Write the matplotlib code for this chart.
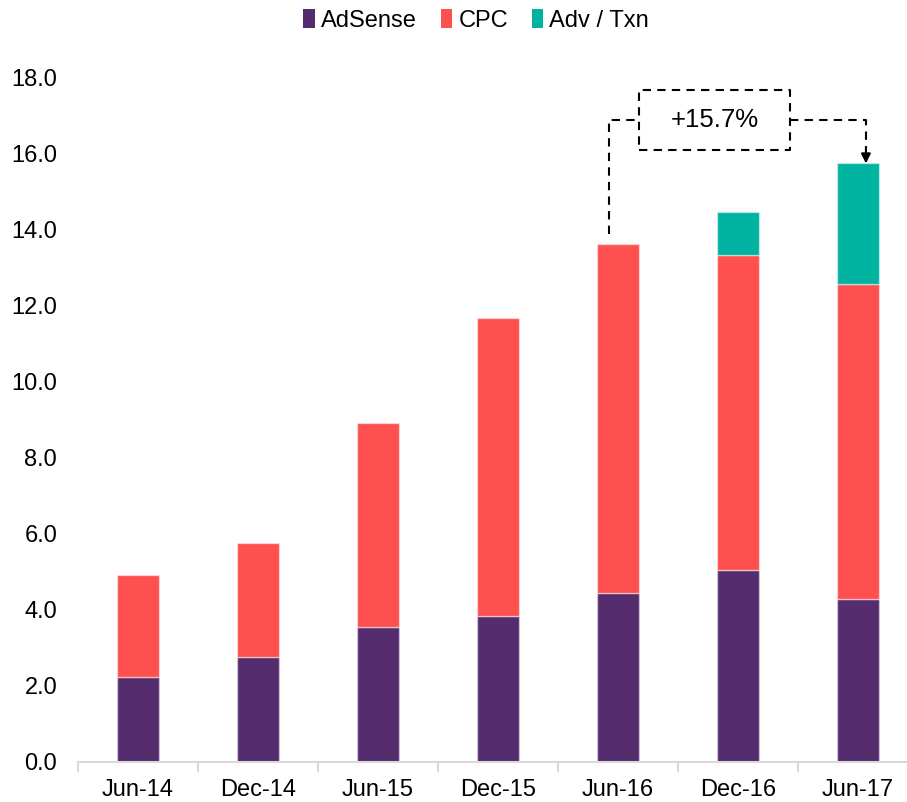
import matplotlib
matplotlib.use("Agg")
import matplotlib.pyplot as plt
from matplotlib.patches import Patch
import numpy as np

plt.rcParams['font.family'] = ['Liberation Sans', 'DejaVu Sans']

periods = ['Jun-14', 'Dec-14', 'Jun-15', 'Dec-15', 'Jun-16', 'Dec-16', 'Jun-17']
adsense = [2.23, 2.76, 3.54, 3.84, 4.44, 5.05, 4.29]
cpc = [2.68, 3.00, 5.36, 7.84, 9.16, 8.28, 8.26]
adv_txn = [0.00, 0.00, 0.00, 0.00, 0.00, 1.12, 3.18]
series = ['AdSense', 'CPC', 'Adv / Txn']
colors = ['#552D6E', '#FF5050', '#00B3A0']
growth_label = '+15.7%'

fig = plt.figure(figsize=(9.07, 8.02), dpi=100)
ax = fig.add_axes([0.086, 0.0499, 0.926, 0.854])

x = np.arange(len(periods))
w = 0.35
edge = (1, 1, 1, 0.45)
b1 = np.array(adsense)
b2 = b1 + np.array(cpc)
ax.bar(x, adsense, w, color=colors[0], edgecolor=edge, lw=1)
ax.bar(x, cpc, w, bottom=b1, color=colors[1], edgecolor=edge, lw=1)
mask = np.array(adv_txn) > 0
ax.bar(x[mask], np.array(adv_txn)[mask], w, bottom=b2[mask], color=colors[2], edgecolor=edge, lw=1)
totals = b2 + np.array(adv_txn)

ax.set_xlim(-0.5, 6.5)
ax.set_ylim(0, 18)
ax.set_yticks(np.arange(0, 18.1, 2))
ax.set_yticklabels(['%.1f' % v for v in np.arange(0, 18.1, 2)])
ax.set_xticks(x)
ax.set_xticklabels(periods)
ax.set_xticks(np.arange(-0.5, 7, 1), minor=True)
ax.tick_params(axis='y', length=0, pad=15, labelsize=17)
ax.tick_params(axis='x', which='major', length=0, pad=12, labelsize=17)
ax.tick_params(axis='x', which='minor', length=7, width=1.5, color='#D9D9D9')
for s in ['top', 'right', 'left']:
    ax.spines[s].set_visible(False)
ax.spines['bottom'].set_color('#D9D9D9')
ax.spines['bottom'].set_linewidth(1.5)

# growth annotation
i0, i1 = 4, 6
dash = dict(color='black', lw=1.5, ls=(0, (4, 3)))
y_line = 16.88
bx0, bx1 = i0 + 0.175, i1 - 0.567
by0, by1 = 16.09, 17.66
ax.plot([i0 - 0.075, i0 - 0.075, bx0], [totals[i0] + 0.28, y_line, y_line], **dash, clip_on=False)
ax.plot([bx0, bx1, bx1, bx0, bx0], [by0, by0, by1, by1, by0], **dash, clip_on=False)
ax.plot([bx1, i1 + 0.067, i1 + 0.067], [y_line, y_line, totals[i1] + 0.4], **dash, clip_on=False)
ax.annotate('', xy=(i1 + 0.067, totals[i1]), xytext=(i1 + 0.067, totals[i1] + 0.42),
            arrowprops=dict(arrowstyle='-|>', color='black', lw=1.5, mutation_scale=14,
                            shrinkA=0, shrinkB=0))
ax.text((bx0 + bx1) / 2, (by0 + by1) / 2, growth_label, ha='center', va='center', fontsize=18.5)

handles = [Patch(facecolor=c) for c in colors]
fig.legend(handles, series, loc='center', bbox_to_anchor=(0.525, 0.975), ncol=3, frameon=False,
           fontsize=17, handlelength=0.5, handleheight=0.9, handletextpad=0.25, columnspacing=1.0)

fig.savefig('out.png', dpi=100)
